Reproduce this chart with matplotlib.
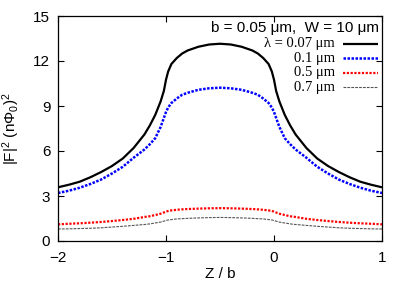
import matplotlib
matplotlib.use("Agg")
import matplotlib.pyplot as plt

plt.rcParams['font.family'] = ['Liberation Sans', 'DejaVu Sans']
plt.rcParams['mathtext.fontset'] = 'custom'
plt.rcParams['mathtext.rm'] = 'Liberation Sans'
plt.rcParams['mathtext.it'] = 'Liberation Sans'

z = [-2.0, -1.9, -1.8, -1.7, -1.6, -1.5, -1.4, -1.3, -1.2, -1.15, -1.1, -1.05,
     -1.02, -1.0, -0.98, -0.95, -0.9, -0.85, -0.8, -0.7, -0.6, -0.5,
     -0.4, -0.3, -0.2, -0.15, -0.1, -0.05, -0.02, 0.0, 0.02, 0.05, 0.1, 0.15,
     0.2, 0.3, 0.4, 0.5, 0.6, 0.7, 0.8, 0.9, 1.0]

f_007 = [3.58, 3.75, 3.95, 4.25, 4.6, 5.0, 5.5, 6.2, 7.1, 7.7, 8.4, 9.3,
         10.0, 10.75, 11.3, 11.8, 12.2, 12.5, 12.7, 12.95, 13.1, 13.15,
         13.1, 12.95, 12.7, 12.5, 12.2, 11.8, 11.3, 10.75, 10.0, 9.3, 8.4, 7.7,
         7.1, 6.2, 5.5, 5.0, 4.6, 4.25, 3.95, 3.75, 3.58]

f_01 = [3.2, 3.35, 3.55, 3.8, 4.1, 4.5, 4.95, 5.55, 6.1, 6.45, 6.85, 7.6,
        8.2, 8.6, 8.9, 9.2, 9.5, 9.75, 9.88, 10.08, 10.18, 10.22,
        10.18, 10.08, 9.88, 9.75, 9.5, 9.2, 8.9, 8.6, 8.2, 7.6, 6.85, 6.45,
        6.1, 5.55, 4.95, 4.5, 4.1, 3.8, 3.55, 3.35, 3.2]

f_05 = [1.11, 1.15, 1.18, 1.22, 1.27, 1.33, 1.4, 1.48, 1.6, 1.65, 1.73, 1.82,
        1.9, 1.96, 2.0, 2.04, 2.08, 2.11, 2.13, 2.16, 2.18, 2.19,
        2.18, 2.16, 2.13, 2.11, 2.08, 2.04, 2.0, 1.96, 1.9, 1.82, 1.73, 1.65,
        1.6, 1.48, 1.4, 1.33, 1.27, 1.22, 1.18, 1.15, 1.11]

f_07 = [0.8, 0.81, 0.83, 0.85, 0.88, 0.93, 0.98, 1.04, 1.1, 1.14, 1.2, 1.26,
        1.32, 1.37, 1.4, 1.43, 1.47, 1.49, 1.51, 1.54, 1.56, 1.57,
        1.56, 1.54, 1.51, 1.49, 1.47, 1.43, 1.4, 1.37, 1.32, 1.26, 1.2, 1.14,
        1.1, 1.04, 0.98, 0.93, 0.88, 0.85, 0.83, 0.81, 0.8]

labels = ['λ = 0.07 μm', '0.1 μm', '0.5 μm', '0.7 μm']
header = 'b = 0.05 μm,  W = 10 μm'
xticks = [-2, -1, 0, 1]
yticks = [0, 3, 6, 9, 12, 15]

W, H = 407, 285
L, R, T, B = 58, 382, 16, 241

fig = plt.figure(figsize=(W / 100, H / 100), dpi=100)
ax = fig.add_axes([L / W, 1 - B / H, (R - L) / W, (B - T) / H])

def ax_x(px):
    return (px - L) / (R - L)

def ax_y(py):
    return (B - py) / (B - T)

styles = [
    dict(color='black', lw=1.6, ls='-', solid_capstyle='butt'),
    dict(color='#0000ff', lw=1.8, ls=(0, (1, 0.6))),
    dict(color='#ff0000', lw=1.6, ls=(0, (1, 0.7))),
    dict(color='#555555', lw=0.8, ls=(0, (2.5, 1))),
]
series = [f_007, f_01, f_05, f_07]

for vals, st in zip(series, styles):
    ax.plot(z, vals, **st)

ax.set_xlim(-2, 1)
ax.set_ylim(0, 15)
ax.set_xticks(xticks)
ax.set_yticks(yticks)
ax.tick_params(direction='in', length=4, width=0.8, top=True, right=True,
               labelsize=11)
ax.tick_params(axis='x', pad=7)
ax.tick_params(axis='y', pad=5.5)
for s in ax.spines.values():
    s.set_linewidth(0.9)

ax.set_xlabel('Z / b', fontsize=11, labelpad=2)
ax.set_ylabel(r'|F|$^2$ (n$\Phi_0$)$^2$', fontsize=11)
ax.yaxis.set_label_coords(ax_x(22), 0.5)

# header and legend
ax.text(ax_x(379), ax_y(28), header, transform=ax.transAxes,
        ha='right', va='center', fontsize=11)
rows_y = [44, 58.3, 72.7, 87]
for lab, st, ry in zip(labels, styles, rows_y):
    ax.text(ax_x(335), ax_y(ry), lab, transform=ax.transAxes, ha='right',
            va='center', fontsize=10.5,
            family=['Liberation Serif', 'DejaVu Serif'])
    ax.plot([ax_x(343), ax_x(378)], [ax_y(ry), ax_y(ry)],
            transform=ax.transAxes, clip_on=False, **st)

fig.savefig('out.png', dpi=100)
